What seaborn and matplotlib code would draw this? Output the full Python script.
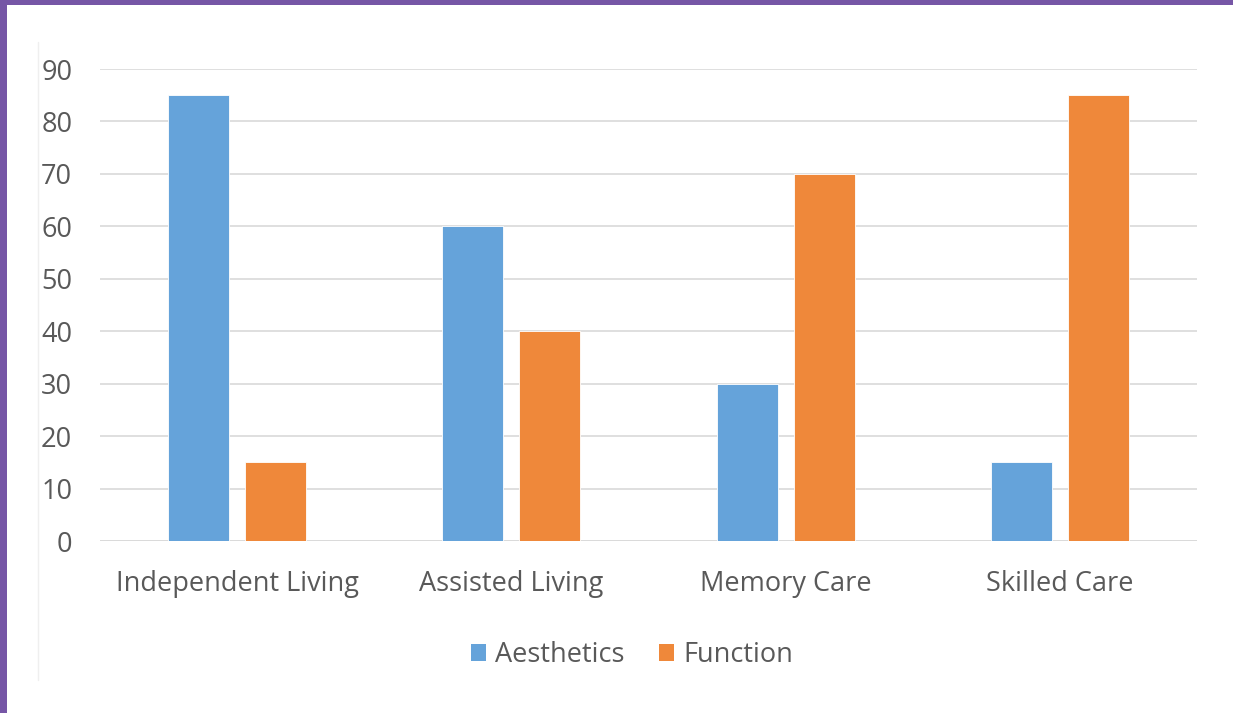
import pandas as pd
import matplotlib.pyplot as plt
import seaborn as sns
from matplotlib.patches import Patch, Rectangle
from matplotlib.lines import Line2D

categories = ["Independent Living", "Assisted Living", "Memory Care", "Skilled Care"]
aesthetics = [85, 60, 30, 15]
function = [15, 40, 70, 85]
series = ["Aesthetics", "Function"]
yticks = [0, 10, 20, 30, 40, 50, 60, 70, 80, 90]

df = pd.DataFrame({
    "category": categories * 2,
    "series": [series[0]] * 4 + [series[1]] * 4,
    "value": aesthetics + function,
})

colors = {"Aesthetics": "#65a3da", "Function": "#ef883a"}
text_color = "#595959"
fs = 19.5

sns.set_theme(style="white")
plt.rcParams["font.family"] = ["Open Sans", "DejaVu Sans"]

W, H = 1233, 713
fig = plt.figure(figsize=(W / 100, H / 100), dpi=100)
ax = fig.add_axes([100 / W, 1 - 541 / H, (1197 - 100) / W, (541 - 69) / H])

sns.barplot(data=df, x="category", y="value", hue="series", order=categories,
            hue_order=series, palette=colors, saturation=1, width=0.562, gap=0.208,
            edgecolor="white", linewidth=0.6, legend=False, ax=ax, zorder=3)

ax.set_ylim(0, 90)
ax.set_xlim(-0.5, 3.5)
ax.set_yticks(yticks)
ax.yaxis.grid(True, color="#d9d9d9", linewidth=1.2, zorder=0)
ax.set_axisbelow(True)
for s in ax.spines.values():
    s.set_visible(False)
ax.axhline(0, color="#d9d9d9", linewidth=1.2, zorder=1)
ax.set_xlabel("")
ax.set_ylabel("")
ax.tick_params(axis="both", length=0, labelsize=fs, colors=text_color)
ax.tick_params(axis="x", pad=21)
ax.tick_params(axis="y", pad=20)

handles = [Patch(facecolor=colors[s], edgecolor="none") for s in series]
fig.legend(handles, series, loc="center", bbox_to_anchor=(632 / W, 1 - 655 / H),
           ncol=2, frameon=False, fontsize=fs, labelcolor=text_color,
           handlelength=0.55, handleheight=0.55, handletextpad=0.35, columnspacing=1.25)

# purple frame and faint chart-area edge
fig.add_artist(Rectangle((0, 0), 7 / W, 1, transform=fig.transFigure,
                         facecolor="#7656a6", edgecolor="none"))
fig.add_artist(Rectangle((0, 1 - 5 / H), 1, 5 / H, transform=fig.transFigure,
                         facecolor="#7656a6", edgecolor="none"))
fig.add_artist(Line2D([38 / W, 38 / W], [1 - 680 / H, 1 - 42 / H],
                      transform=fig.transFigure, color="#efefef", linewidth=1))

fig.savefig("out.png", dpi=100)
